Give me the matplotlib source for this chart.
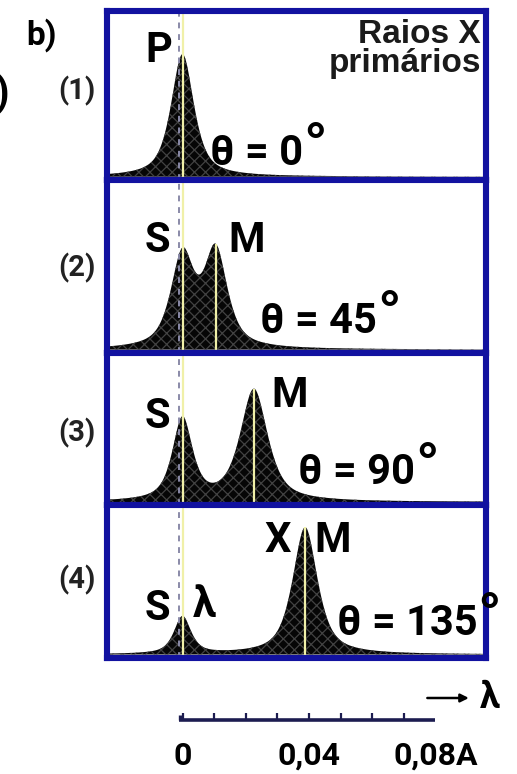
import numpy as np
import matplotlib.pyplot as plt

# Espalhamento Compton: espectros para quatro ângulos de espalhamento
angles = [0, 45, 90, 135]
panel_tags = ["(1)", "(2)", "(3)", "(4)"]

# pico não deslocado (em lambda = 0): altura relativa e meia-largura (A)
s_height = [0.74, 0.54, 0.55, 0.25]
s_width = [0.0043, 0.0044, 0.0038, 0.0032]

# pico deslocado M: deslocamento (A), altura relativa e meia-largura (A)
m_shift = [None, 0.0105, 0.0226, 0.0388]
m_height = [0.0, 0.565, 0.75, 0.85]
m_width = [0.0, 0.0044, 0.0052, 0.0047]

# escala de comprimento de onda
scale_ticks = [0.0, 0.01, 0.02, 0.03, 0.04, 0.05, 0.06, 0.07]
scale_end = 0.08
label_pos = [0.0, 0.04, 0.08]
label_text = ["0", "0,04", "0,08A"]

W, H = 517, 774
FONT = ['Roboto', 'DejaVu Sans']
FRAME = '#1212a0'
YELLOW = '#f0f0a8'

# geometria em pixels
px_per_A = 3160.0
x0_px = 182.5
left_px, right_px = 106.5, 486.0
bounds = [11, 180, 353, 505, 657.5]


def fx(x):
    return x / W


def fy(y):
    return 1 - y / H


def profile(x, c, h, w, eta=0.7):
    # pseudo-Voigt: mistura de Lorentz e Gauss com a mesma meia-largura
    d = (x - c) / w
    return h * (eta / (1 + d ** 2) + (1 - eta) * np.exp(-np.log(2) * d ** 2))


fig = plt.figure(figsize=(W / 100, H / 100), dpi=100)
fig.patch.set_facecolor('white')
plt.rcParams['hatch.linewidth'] = 0.9

xlim = ((left_px - x0_px) / px_per_A, (right_px - x0_px) / px_per_A)
x = np.linspace(xlim[0], xlim[1], 1500)

axes = []
for i in range(4):
    top, bot = bounds[i], bounds[i + 1]
    ax = fig.add_axes([fx(left_px), fy(bot), fx(right_px - left_px), (bot - top) / H])
    ax.set_xlim(xlim)
    ax.set_ylim(-0.02, 1.0)
    ax.set_xticks([])
    ax.set_yticks([])
    for sp in ax.spines.values():
        sp.set_color(FRAME)
        sp.set_linewidth(4.4)
        sp.set_zorder(10)

    y = profile(x, 0.0, s_height[i], s_width[i])
    if m_shift[i] is not None:
        y = y + profile(x, m_shift[i], m_height[i], m_width[i])
    ax.fill_between(x, 0, y, facecolor='#060606', edgecolor='#424242',
                    hatch='xxx', linewidth=0, zorder=2)

    # linha de referência em lambda = 0
    ax.axvline(0.0, color=YELLOW, lw=1.6, zorder=4)
    ax.axvline(-4 / px_per_A, color='#8a8aa8', lw=1.4, ls=(0, (3, 3)), zorder=4)
    if m_shift[i] is not None:
        top_m = np.interp(m_shift[i], x, y)
        ax.vlines(m_shift[i], 0, top_m, color=YELLOW, lw=1.6, zorder=4)
    axes.append(ax)

# rótulos dos picos
txt = dict(fontsize=30, fontweight='bold', family=FONT, color='black',
           va='baseline', ha='left')
fig.text(fx(145), fy(62), "P", **txt)
fig.text(fx(145), fy(252), "S", **txt)
fig.text(fx(228), fy(252), "M", **txt)
fig.text(fx(145), fy(428), "S", **txt)
fig.text(fx(271), fy(407), "M", **txt)
fig.text(fx(265), fy(552), "X", **txt)
fig.text(fx(314), fy(552), "M", **txt)
fig.text(fx(145), fy(620), "S", **txt)
fig.text(fx(193), fy(617), "λ", **txt)

# ângulos
theta_pos = [(210, 165), (260, 333), (298, 484), (337, 635)]
for ax, a, (tx, ty) in zip(axes, angles, theta_pos):
    t = ax.text(fx(tx), fy(ty), f"θ = {a}", transform=fig.transFigure,
                fontsize=30, fontweight='bold', family=FONT,
                va='baseline', ha='left', zorder=12)
    ax.annotate("°", xy=(1, 1), xycoords=t, xytext=(0, 9),
                textcoords='offset points', fontsize=44, fontweight='bold',
                family=FONT, ha='left', va='top', annotation_clip=False,
                zorder=12)

# numeração dos painéis
tag_y = [91, 268, 433, 580]
for tag, ty in zip(panel_tags, tag_y):
    fig.text(fx(77), fy(ty), tag, fontsize=21, fontweight='bold', family=FONT,
             color='#222222', ha='center', va='center')

fig.text(fx(42), fy(35), "b)", fontsize=24, fontweight='bold', family=FONT,
         ha='center', va='center')
fig.text(fx(9), fy(94), ")", fontsize=30, fontweight='bold', family=FONT,
         ha='right', va='center')

fig.text(fx(481), fy(43), "Raios X", fontsize=24, fontweight='bold',
         family=['Liberation Sans', 'DejaVu Sans'], color='#1a1a1a',
         ha='right', va='baseline')
fig.text(fx(481), fy(72), "primários", fontsize=24, fontweight='bold',
         family=['Liberation Sans', 'DejaVu Sans'], color='#1a1a1a',
         ha='right', va='baseline')

# barra de escala
sx = fig.add_axes([fx(left_px), 0, fx(right_px - left_px), 95 / H])
sx.set_xlim(xlim)
sx.set_ylim(0, 95)
sx.axis('off')
line_y = H - 720
sx.plot([scale_ticks[0] - 4 / px_per_A, scale_end], [line_y, line_y],
        color='#1c1c50', lw=2.6, solid_capstyle='butt')
sx.vlines(scale_ticks, line_y, line_y + 7, color='#1c1c50', lw=1.6)
sx.vlines(scale_ticks[0] - 3 / px_per_A, line_y, line_y + 5, color='#1c1c50', lw=2.4)
for p, s in zip(label_pos, label_text):
    sx.text(p, H - 765, s, fontsize=23, fontweight='bold', family=FONT,
            ha='center', va='baseline')

arrow_y = H - 698
sx.annotate("", xy=(0.0915, arrow_y), xytext=(0.0766, arrow_y),
            arrowprops=dict(arrowstyle='-|>', color='black', lw=1.8,
                            mutation_scale=12), annotation_clip=False)
sx.text(0.0941, arrow_y, "λ", fontsize=26, fontweight='bold', family=FONT,
        ha='left', va='center')

fig.savefig('out.png', dpi=100)
